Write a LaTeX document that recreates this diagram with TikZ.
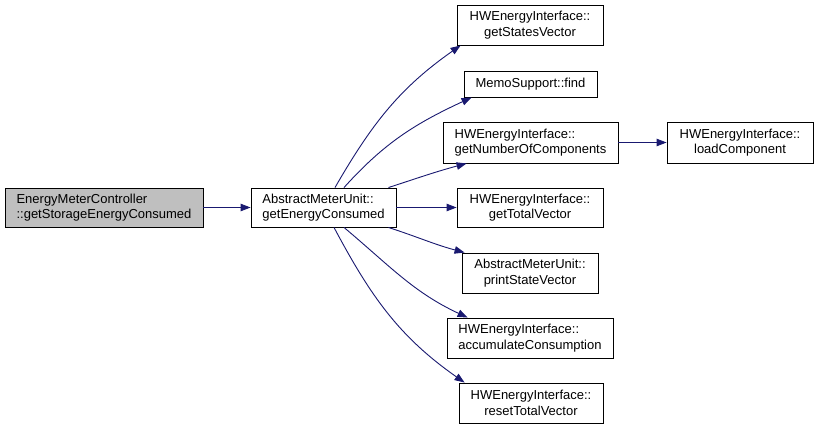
\documentclass[tikz,border=0pt]{standalone}
\usepackage{fontspec}
\setmainfont{Liberation Sans}
\usetikzlibrary{arrows.meta}
\begin{document}
\begin{tikzpicture}[x=1pt,y=1pt,
  fnbox/.style={draw=black,line width=0.9pt,fill=white,inner sep=0pt,
    font=\fontsize{13}{15.5}\selectfont},
  callarrow/.style={draw=edgecolor,line width=0.9pt,
    -{Triangle[length=10pt,width=7.5pt,fill=edgecolor]}}]
\definecolor{edgecolor}{HTML}{191970}
\definecolor{rootfill}{HTML}{BFBFBF}
\useasboundingbox (0,0) rectangle (819,429);
\node[fnbox,fill=rootfill,minimum width=198pt,minimum height=39pt,align=left] (ctrl) at (104,221.5) {EnergyMeterController\\::getStorageEnergyConsumed};
\node[fnbox,minimum width=145pt,minimum height=39pt,align=left] (meter) at (323.5,221.5) {AbstractMeterUnit::\\getEnergyConsumed};
\node[fnbox,minimum width=146pt,minimum height=40pt,align=center] (states) at (530,404) {HWEnergyInterface::\\getStatesVector};
\node[fnbox,minimum width=133pt,minimum height=26pt,align=center] (find) at (530.5,345) {MemoSupport::find};
\node[fnbox,minimum width=175pt,minimum height=41pt,align=left] (ncomp) at (530.5,286.5) {HWEnergyInterface::\\getNumberOfComponents};
\node[fnbox,minimum width=146pt,minimum height=41pt,align=center] (load) at (740,286.5) {HWEnergyInterface::\\loadComponent};
\node[fnbox,minimum width=146pt,minimum height=39pt,align=center] (total) at (530,221.5) {HWEnergyInterface::\\getTotalVector};
\node[fnbox,minimum width=136pt,minimum height=40pt,align=center] (print) at (530,156) {AbstractMeterUnit::\\printStateVector};
\node[fnbox,minimum width=166pt,minimum height=40pt,align=left] (accum) at (530,91) {HWEnergyInterface::\\accumulateConsumption};
\node[fnbox,minimum width=144pt,minimum height=40pt,align=center] (reset) at (531,26) {HWEnergyInterface::\\resetTotalVector};
\draw[callarrow] (ctrl) -- (meter);
\draw[callarrow] ([xshift=11.5pt]meter.north) to[out=60,in=215] ([xshift=4pt]states.south west);
\draw[callarrow] ([xshift=20.5pt]meter.north) to[out=48,in=205] ([xshift=8pt]find.south west);
\draw[callarrow] ([xshift=-8pt]meter.north east) to[out=18,in=195] ([xshift=24pt]ncomp.south west);
\draw[callarrow] (meter) -- (total);
\draw[callarrow] ([xshift=-8pt]meter.south east) to[out=-18,in=165] ([xshift=3pt]print.north west);
\draw[callarrow] ([xshift=20.5pt]meter.south) to[out=-40,in=155] ([xshift=21pt]accum.north west);
\draw[callarrow] ([xshift=10.5pt]meter.south) to[out=-62,in=145] ([xshift=6pt]reset.north west);
\draw[callarrow] (ncomp) -- (load);
\end{tikzpicture}
\end{document}
